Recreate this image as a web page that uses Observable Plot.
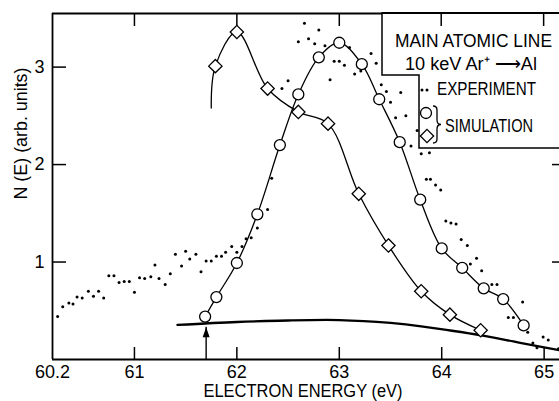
<!DOCTYPE html>
<html><head><meta charset="utf-8">
<script src="https://cdn.jsdelivr.net/npm/d3@7"></script>
<script src="https://cdn.jsdelivr.net/npm/@observablehq/plot@0.6"></script>
<style>body{margin:0;background:#fff;}</style>
</head><body><div id="chart"></div>
<script>
// ---- data ----
const expE = [60.25,60.30,60.36,60.40,60.44,60.49,60.55,60.60,60.65,60.70,
  60.75,60.80,60.85,60.90,60.95,61.00,61.05,61.10,61.16,61.20,
  61.24,61.30,61.35,61.40,61.46,61.50,61.54,61.60,61.65,61.70,
  61.75,61.80,61.85,61.89,61.95,62.00,62.05,62.09,62.14,62.20,
  62.19,62.30,62.34,62.44,62.50,62.60,62.66,62.70,62.76,62.80,
  62.86,62.91,62.95,63.00,63.05,63.10,63.15,63.21,63.31,63.36,
  63.41,63.46,63.50,63.55,63.60,63.65,63.70,63.76,63.80,63.88,
  63.85,63.89,63.94,63.99,64.04,64.09,64.14,64.19,64.25,64.28,
  64.34,64.39,64.49,64.54,64.65,64.70,64.79,64.84,64.89,64.93,
  64.99,65.04,65.14];
const expN = [0.44,0.54,0.58,0.57,0.64,0.63,0.70,0.65,0.70,0.63,
  0.86,0.86,0.79,0.80,0.80,0.69,0.84,0.83,0.85,0.97,
  0.83,0.77,0.88,1.08,0.96,1.11,1.03,1.08,0.90,1.01,
  1.01,1.06,1.06,1.10,1.16,1.10,1.16,1.24,1.25,1.35,
  1.49,1.54,1.86,2.78,2.86,3.26,3.45,3.29,3.24,3.38,
  3.22,2.87,3.06,3.06,3.02,3.20,2.93,2.96,3.14,3.04,
  2.82,2.75,2.64,2.48,2.74,2.50,2.19,2.35,2.11,2.12,
  1.85,1.85,1.79,1.74,1.42,1.40,1.39,1.23,1.17,0.98,
  1.04,0.91,0.77,0.77,0.43,0.43,0.59,0.28,0.17,0.12,
  0.23,0.20,0.11];

const circE = [61.69,61.80,62.00,62.20,62.42,62.60,62.80,63.00,63.22,63.39,63.59,63.79,64.00,64.20,64.41,64.60,64.80];
const circN = [0.44,0.64,0.99,1.49,2.20,2.72,3.10,3.25,3.03,2.67,2.23,1.64,1.14,0.94,0.73,0.62,0.35];

const diamE = [61.79,62.00,62.30,62.60,62.89,63.19,63.48,63.80,64.08,64.38];
const diamN = [3.01,3.36,2.78,2.54,2.42,1.70,1.17,0.70,0.46,0.30];
const diamCurveStartE = [61.75];
const diamCurveStartN = [2.58];

const bgE = [61.42,62.00,62.50,63.00,63.50,63.80,64.10,64.40,64.70,65.00,65.15];
const bgN = [0.355,0.385,0.400,0.405,0.375,0.340,0.295,0.245,0.185,0.125,0.095];

const arrowE = [61.70];
const arrowTipN = [0.33];

const xDomain = [60.2, 65.15];
const yDomain = [0, 3.55];
const xTicks = [61, 62, 63, 64, 65];
const xTickLabels = [60.2, 61, 62, 63, 64, 65];
const yTicks = [1, 2, 3];
const yTicksRight = [1, 2];

const xLabel = "ELECTRON ENERGY (eV)";
const yLabel = "N (E) (arb. units)";
const legendTitle = ["MAIN ATOMIC LINE", "10 keV Ar\u207A \u27F6Al"];
const legendLabels = ["EXPERIMENT", "SIMULATION"];

// ---- tables ----
const exp = expE.map((e, i) => ({E: e, N: expN[i]}));
const circ = circE.map((e, i) => ({E: e, N: circN[i]}));
const diam = diamE.map((e, i) => ({E: e, N: diamN[i]}));
const diamLine = diamCurveStartE.map((e, i) => ({E: e, N: diamCurveStartN[i]})).concat(diam);
const bg = bgE.map((e, i) => ({E: e, N: bgN[i]}));
const arrow = arrowE.map((e, i) => ({E: e, N0: 0, N1: arrowTipN[i]}));

const W = 559, H = 401, mL = 52, mR = 0, mT = 13, mB = 42;
const fw = W - mL - mR, fh = H - mT - mB;

const arrowHead = {draw(ctx, size) {
  const s = Math.sqrt(size / Math.PI);
  ctx.moveTo(0, 0); ctx.lineTo(0.7 * s, 2 * s); ctx.lineTo(-0.7 * s, 2 * s); ctx.closePath();
}};

const font = "'Liberation Sans', Arial, Helvetica, sans-serif";

const svg = Plot.plot({
  width: W, height: H,
  marginLeft: mL, marginRight: mR, marginTop: mT, marginBottom: mB,
  x: {domain: xDomain},
  y: {domain: yDomain},
  style: {fontFamily: font, fontSize: "18px", color: "black", background: "white", overflow: "visible"},
  marks: [
    // frame
    Plot.ruleX([xDomain[0]], {strokeWidth: 1.8}),
    Plot.ruleY([yDomain[0]], {strokeWidth: 2}),
    Plot.ruleY([yDomain[1]], {strokeWidth: 2}),
    // inward ticks
    Plot.tickX(xTicks, {x: d => d, insetTop: fh - 12, strokeWidth: 1.5}),
    Plot.tickX(xTicks, {x: d => d, insetBottom: fh - 13, strokeWidth: 1.5}),
    Plot.tickY(yTicks, {y: d => d, insetRight: fw - 14, strokeWidth: 1.5}),
    Plot.tickY(yTicksRight, {y: d => d, insetLeft: fw - 7, strokeWidth: 1.5}),
    // tick labels
    Plot.axisX({ticks: xTickLabels, tickSize: 0, tickPadding: 6, tickFormat: d => String(d), label: null}),
    Plot.axisY({ticks: yTicks, tickSize: 0, tickPadding: 8, tickFormat: d => String(d), label: null}),
    // axis titles
    Plot.text([xLabel], {text: d => d, frameAnchor: "bottom", dx: -3, dy: 32, lineAnchor: "middle", fontSize: 18}),
    Plot.text([yLabel], {text: d => d, frameAnchor: "left", rotate: -90, dx: -31, dy: 13, lineAnchor: "middle", fontSize: 18}),
    // background curve
    Plot.line(bg, {x: "E", y: "N", curve: "natural", strokeWidth: 2.3}),
    // arrow
    Plot.ruleX(arrow, {x: "E", y1: "N0", y2: "N1", strokeWidth: 1.4}),
    Plot.dot(arrow, {x: "E", y: "N1", symbol: arrowHead, r: 5, fill: "black", stroke: "none"}),
    // experiment
    Plot.dot(exp, {x: "E", y: "N", r: 1.5, fill: "black", stroke: "none"}),
    // simulation curves
    Plot.line(circ, {x: "E", y: "N", curve: "catmull-rom", strokeWidth: 1.3}),
    Plot.line(diamLine, {x: "E", y: "N", curve: "catmull-rom", strokeWidth: 1.3}),
    Plot.dot(circ, {x: "E", y: "N", r: 5.5, fill: "white", stroke: "black", strokeWidth: 1.3}),
    Plot.dot(diam, {x: "E", y: "N", symbol: "diamond2", r: 6, fill: "white", stroke: "black", strokeWidth: 1.3})
  ]
});

// fit title widths like the original lettering
d3.select(svg).selectAll("text").each(function() {
  const t = this.textContent;
  if (t === xLabel) { this.setAttribute("textLength", 199); this.setAttribute("lengthAdjust", "spacingAndGlyphs"); }
  if (t === yLabel) { this.setAttribute("textLength", 132); this.setAttribute("lengthAdjust", "spacingAndGlyphs"); }
});

// legend box
const g = d3.select(svg).append("g").attr("font-family", font).attr("font-size", 18)
  .attr("fill", "black").attr("text-anchor", "start");
g.append("path")
  .attr("d", "M382,13 L382,75 L419,75 L419,148 L562,148 L562,13 Z")
  .attr("fill", "white").attr("stroke", "black").attr("stroke-width", 1.5);
g.append("path").attr("d", "M382,13 L562,13").attr("stroke", "black").attr("stroke-width", 2);
// top ticks that show over the legend
[64, 65].forEach(v => {
  const xv = mL + (v - xDomain[0]) / (xDomain[1] - xDomain[0]) * fw;
  g.append("line").attr("x1", xv).attr("x2", xv).attr("y1", 13).attr("y2", 26).attr("stroke", "black").attr("stroke-width", 1.5);
});
const texts = [
  {t: legendTitle[0], x: 395, y: 47, len: 157},
  {t: legendTitle[1], x: 405, y: 70, len: 132},
  {t: legendLabels[0], x: 437, y: 95, len: 99},
  {t: legendLabels[1], x: 445, y: 132, len: 88}
];
texts.forEach(d => {
  g.append("text").attr("x", d.x).attr("y", d.y).attr("text-anchor", "start").text(d.t)
    .attr("textLength", d.len).attr("lengthAdjust", "spacingAndGlyphs");
});
[422, 427].forEach(x => g.append("circle").attr("cx", x).attr("cy", 90).attr("r", 1.5));
g.append("circle").attr("cx", 426).attr("cy", 113).attr("r", 5.5).attr("fill", "white").attr("stroke", "black").attr("stroke-width", 1.3);
g.append("path").attr("d", d3.symbol(d3.symbolDiamond2, Math.PI * 36)()).attr("transform", "translate(427,136)")
  .attr("fill", "white").attr("stroke", "black").attr("stroke-width", 1.3);
g.append("path").attr("d", "M433,106 Q437,106 437,110 L437,120 Q437,124.5 441,124.5 Q437,124.5 437,129 L437,139 Q437,143 433,143")
  .attr("fill", "none").attr("stroke", "black").attr("stroke-width", 1.3);

document.getElementById("chart").appendChild(svg);
</script>
</body></html>
